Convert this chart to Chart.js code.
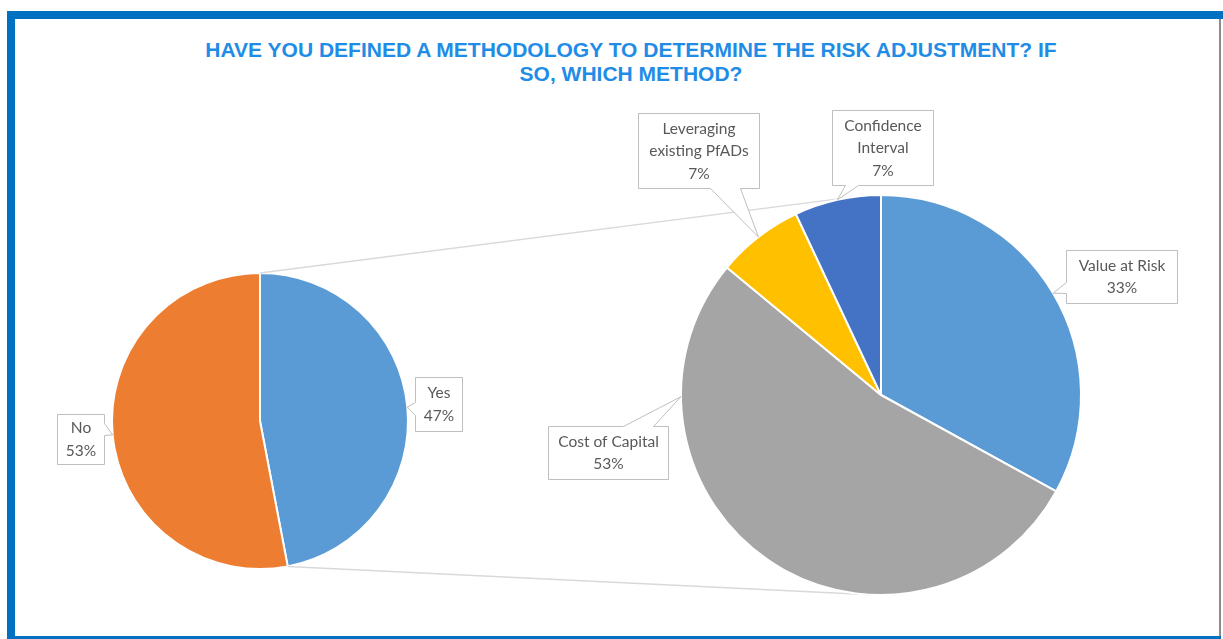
<!DOCTYPE html>
<html>
<head>
<meta charset="utf-8">
<script src="https://cdn.jsdelivr.net/npm/chart.js@4/dist/chart.umd.min.js"></script>
<style>
html,body{margin:0;padding:0;background:#fff;}
#wrap{position:relative;width:1223px;height:639px;overflow:hidden;background:#fff;}
.bar{position:absolute;}
#title{position:absolute;left:0;top:38px;width:1262px;text-align:center;font-family:"Liberation Sans",Arial,sans-serif;font-weight:bold;font-size:21px;line-height:24px;color:#1F8CE6;}
canvas{position:absolute;left:0;top:0;}
</style>
</head>
<body>
<div id="wrap">
  <div class="bar" style="left:7px;top:11px;width:1216px;height:8px;background:#0070C0;"></div>
  <div class="bar" style="left:7px;top:11px;width:8px;height:628px;background:#0070C0;"></div>
  <div class="bar" style="left:1219px;top:19px;width:2px;height:620px;background:#8C8C8C;"></div>
  <div class="bar" style="left:7px;top:636px;width:1214px;height:3px;background:#0070C0;"></div>
  <div id="title">HAVE YOU DEFINED A METHODOLOGY TO DETERMINE THE RISK ADJUSTMENT? IF<br>SO, WHICH METHOD?</div>
  <canvas id="c1" width="1223" height="639"></canvas>
  <canvas id="c2" width="1223" height="639"></canvas>
</div>
<script>
// ---- data ----
const mainLabels = ['Yes', 'No'];
const mainValues = [47, 53];
const mainColors = ['#5B9BD5', '#ED7D31'];

const methodLabels = ['Value at Risk', 'Cost of Capital', ['Leveraging', 'existing PfADs'], ['Confidence', 'Interval']];
const methodValues = [33, 53, 7, 7];
const methodColors = ['#5B9BD5', '#A5A5A5', '#FFC000', '#4472C4'];

// ---- label callout layout (box x, y, w, h; pointer side; pointer base along side) ----
const mainLabelLayout = [
  {box: [415, 377, 47, 54], side: 'left', base: [402, 415]},
  {box: [57, 414, 47, 50], side: 'right', base: [423, 435]}
];
const methodLabelLayout = [
  {box: [1066, 250, 111, 53], side: 'left', base: [282, 293]},
  {box: [548, 426, 120, 53], side: 'top', base: [623, 653], anchorFrac: 0.79},
  {box: [638, 113, 121, 75], side: 'bottom', base: [710, 740]},
  {box: [832, 110, 101, 75], side: 'bottom', base: [845, 858]}
];

const LABEL_FONT = '15.5px Lato, "Open Sans", sans-serif';
const LABEL_COLOR = '#595959';
const BOX_BORDER = '#BFBFBF';
const LINE_H = 22.5;

function calloutPath(ctx, x, y, w, h, side, a, b, tx, ty) {
  ctx.beginPath();
  ctx.moveTo(x, y);
  if (side === 'top') { ctx.lineTo(a, y); ctx.lineTo(tx, ty); ctx.lineTo(b, y); }
  ctx.lineTo(x + w, y);
  if (side === 'right') { ctx.lineTo(x + w, a); ctx.lineTo(tx, ty); ctx.lineTo(x + w, b); }
  ctx.lineTo(x + w, y + h);
  if (side === 'bottom') { ctx.lineTo(b, y + h); ctx.lineTo(tx, ty); ctx.lineTo(a, y + h); }
  ctx.lineTo(x, y + h);
  if (side === 'left') { ctx.lineTo(x, b); ctx.lineTo(tx, ty); ctx.lineTo(x, a); }
  ctx.closePath();
}

function makeCalloutPlugin(layout) {
  return {
    id: 'callouts',
    afterDatasetsDraw(chart) {
      const ctx = chart.ctx;
      const meta = chart.getDatasetMeta(0);
      const data = chart.data.datasets[0].data;
      const total = data.reduce((s, v) => s + v, 0);
      meta.data.forEach((arc, i) => {
        const L = layout[i];
        const frac = L.anchorFrac !== undefined ? L.anchorFrac : 0.5;
        const ang = arc.startAngle + (arc.endAngle - arc.startAngle) * frac;
        const tx = arc.x + Math.cos(ang) * arc.outerRadius;
        const ty = arc.y + Math.sin(ang) * arc.outerRadius;
        const [x, y, w, h] = L.box;
        ctx.save();
        calloutPath(ctx, x + 0.5, y + 0.5, w, h, L.side, L.base[0] + 0.5, L.base[1] + 0.5, tx, ty);
        ctx.fillStyle = '#FFFFFF';
        ctx.fill();
        ctx.strokeStyle = BOX_BORDER;
        ctx.lineWidth = 1;
        ctx.stroke();
        const lbl = chart.data.labels[i];
        const lines = (Array.isArray(lbl) ? lbl.slice() : [lbl]);
        lines.push(Math.round(data[i] / total * 100) + '%');
        ctx.font = LABEL_FONT;
        ctx.fillStyle = LABEL_COLOR;
        ctx.textAlign = 'center';
        ctx.textBaseline = 'middle';
        const cy = y + h / 2 + 0.5;
        const startY = cy - (lines.length - 1) * LINE_H / 2;
        lines.forEach((t, k) => ctx.fillText(t, x + w / 2 + 0.5, startY + k * LINE_H));
        ctx.restore();
      });
    }
  };
}

const baseOpts = {
  responsive: false,
  animation: false,
  events: [],
  plugins: {legend: {display: false}, tooltip: {enabled: false}, title: {display: false}}
};

const chart1 = new Chart(document.getElementById('c1'), {
  type: 'pie',
  data: {
    labels: mainLabels,
    datasets: [{data: mainValues, backgroundColor: mainColors, borderColor: '#FFFFFF', borderWidth: 2}]
  },
  options: Object.assign({}, baseOpts, {layout: {padding: {left: 111, right: 814, top: 272, bottom: 69}}}),
  plugins: [makeCalloutPlugin(mainLabelLayout)]
});

// tangent point from external point P to circle (C, r); pick upper or lower
function tangentPoint(px, py, cx, cy, r, upper) {
  const dx = px - cx, dy = py - cy;
  const d = Math.hypot(dx, dy);
  const base = Math.atan2(dy, dx);
  const off = Math.acos(r / d);
  const a1 = base + off, a2 = base - off;
  const p1 = [cx + r * Math.cos(a1), cy + r * Math.sin(a1)];
  const p2 = [cx + r * Math.cos(a2), cy + r * Math.sin(a2)];
  if (upper) return p1[1] < p2[1] ? p1 : p2;
  return p1[1] > p2[1] ? p1 : p2;
}

const connectorPlugin = {
  id: 'connectors',
  beforeDatasetsDraw(chart) {
    const src = chart1.getDatasetMeta(0).data[0]; // "Yes" slice, expanded into second pie
    const dst = chart.getDatasetMeta(0).data[0];
    const cx = dst.x, cy = dst.y, r = dst.outerRadius;
    const pts = [src.startAngle, src.endAngle].map(a => [src.x + Math.cos(a) * src.outerRadius, src.y + Math.sin(a) * src.outerRadius]);
    const ctx = chart.ctx;
    ctx.save();
    ctx.strokeStyle = '#D9D9D9';
    ctx.lineWidth = 1.5;
    pts.forEach((p, k) => {
      const t = tangentPoint(p[0], p[1], cx, cy, r, k === 0);
      ctx.beginPath();
      ctx.moveTo(p[0], p[1]);
      ctx.lineTo(t[0], t[1]);
      ctx.stroke();
    });
    ctx.restore();
  }
};

const chart2 = new Chart(document.getElementById('c2'), {
  type: 'pie',
  data: {
    labels: methodLabels,
    datasets: [{data: methodValues, backgroundColor: methodColors, borderColor: '#FFFFFF', borderWidth: 2}]
  },
  options: Object.assign({}, baseOpts, {layout: {padding: {left: 680, right: 141, top: 194, bottom: 43}}}),
  plugins: [connectorPlugin, makeCalloutPlugin(methodLabelLayout)]
});
</script>
</body>
</html>
